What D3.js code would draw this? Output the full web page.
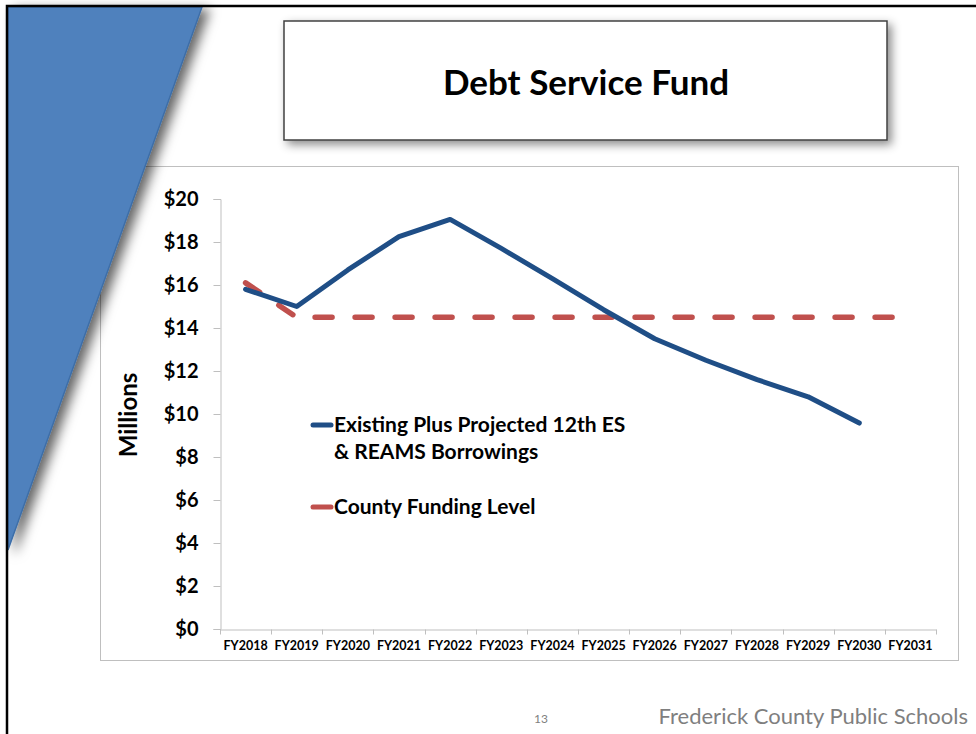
<!DOCTYPE html>
<html>
<head>
<meta charset="utf-8">
<script src="https://cdn.jsdelivr.net/npm/d3@7"></script>
<style>
    body { margin: 0; background: #fff; }
    svg text { font-family: Lato, "Open Sans", "DejaVu Sans", sans-serif; }
</style>
</head>
<body>
<div id="debt-chart"></div>
<script>
    "use strict"

    // -------------------------------------
    // Data (millions of dollars)
    // -------------------------------------
    var categories = ['FY2018', 'FY2019', 'FY2020', 'FY2021', 'FY2022', 'FY2023', 'FY2024',
        'FY2025', 'FY2026', 'FY2027', 'FY2028', 'FY2029', 'FY2030', 'FY2031']
    var existingDebt = [15.8, 15.0, 16.7, 18.25, 19.05, 17.7, 16.3, 14.85, 13.5, 12.5, 11.6, 10.8, 9.58, null]
    var countyFunding = [16.1, 14.5, 14.5, 14.5, 14.5, 14.5, 14.5, 14.5, 14.5, 14.5, 14.5, 14.5, 14.5, 14.5]
    var yTicks = [0, 2, 4, 6, 8, 10, 12, 14, 16, 18, 20]
    var legendLabels = [['Existing Plus Projected 12th ES', '& REAMS Borrowings'], ['County Funding Level']]

    var blue = '#1f4e86'
    var red = '#c0504d'

    var svg = d3.select('#debt-chart')
        .append('svg')
        .attr('width', 976)
        .attr('height', 734)

    var defs = svg.append('defs')
    defs.append('filter').attr('id', 'shadow')
        .attr('x', '-20%').attr('y', '-20%').attr('width', '150%').attr('height', '150%')
        .append('feDropShadow')
        .attr('dx', 4).attr('dy', 4).attr('stdDeviation', 5)
        .attr('flood-color', '#000').attr('flood-opacity', 0.45)
    defs.append('filter').attr('id', 'wedge-shadow')
        .attr('x', '-20%').attr('y', '-20%').attr('width', '160%').attr('height', '150%')
        .append('feDropShadow')
        .attr('dx', 7).attr('dy', 3).attr('stdDeviation', 6)
        .attr('flood-color', '#000').attr('flood-opacity', 0.6)

    // chart area frame (sits under the wedge)
    svg.append('rect')
        .attr('x', 100.5).attr('y', 166.5).attr('width', 858).attr('height', 494)
        .attr('fill', '#fff')
        .attr('stroke', '#bfbfbf')
        .attr('stroke-width', 1)

    // slide border + blue wedge
    svg.append('path')
        .attr('d', 'M8,7 L202,7 L8,550 Z')
        .attr('fill', '#4f81bd')
        .attr('stroke', '#3d6ea8')
        .attr('stroke-width', 1.5)
        .attr('filter', 'url(#wedge-shadow)')

    svg.append('path')
        .attr('d', 'M7,734 L7,6 L976,6')
        .attr('fill', 'none')
        .attr('stroke', '#000')
        .attr('stroke-width', 2.5)

    // title box
    svg.append('rect')
        .attr('x', 284).attr('y', 21).attr('width', 603).attr('height', 119)
        .attr('fill', '#fff')
        .attr('stroke', '#404040')
        .attr('stroke-width', 1.5)
        .attr('filter', 'url(#shadow)')

    svg.append('text')
        .attr('x', 586).attr('y', 95)
        .attr('text-anchor', 'middle')
        .attr('font-size', 35)
        .attr('font-weight', 'bold')
        .text('Debt Service Fund')

    // -------------------------------------
    // Scales and axes
    // -------------------------------------
    var x = d3.scaleBand().domain(categories).range([220, 936])
    var y = d3.scaleLinear().domain([0, 20]).range([629, 199])
    var cx = function (c) { return x(c) + x.bandwidth() / 2 }

    var yAxis = svg.append('g')
        .attr('transform', 'translate(220.5,0)')
        .call(d3.axisLeft(y).tickValues(yTicks).tickSize(7).tickPadding(15)
            .tickFormat(function (d) { return '$' + d }))
    yAxis.selectAll('text').attr('font-size', 20).attr('font-weight', 'bold').attr('fill', '#000')
        .attr('font-family', 'Lato, sans-serif')
    yAxis.selectAll('line, path').attr('stroke', '#bfbfbf')

    var xAxis = svg.append('g')
        .attr('transform', 'translate(0,629.5)')
        .call(d3.axisBottom(x).tickSize(0).tickPadding(12))
    xAxis.selectAll('text').attr('font-size', 12.5).attr('font-weight', 'bold').attr('fill', '#000')
        .attr('font-family', 'Lato, sans-serif')
    xAxis.select('.domain').attr('stroke', '#bfbfbf')

    // category boundary ticks
    xAxis.selectAll('.bound')
        .data(categories.concat(['end']))
        .enter()
        .append('line')
        .attr('class', 'bound')
        .attr('x1', function (d, i) { return Math.round(i < categories.length ? x(d) : x.range()[1]) + 0.5 })
        .attr('x2', function (d, i) { return Math.round(i < categories.length ? x(d) : x.range()[1]) + 0.5 })
        .attr('y1', 0).attr('y2', 5)
        .attr('stroke', '#bfbfbf')

    svg.append('text')
        .attr('transform', 'translate(137,415) rotate(-90)')
        .attr('text-anchor', 'middle')
        .attr('font-size', 24)
        .attr('font-weight', 'bold')
        .text('Millions')

    // -------------------------------------
    // Lines
    // -------------------------------------
    var line = d3.line()
        .defined(function (d) { return d != null })
        .x(function (d, i) { return cx(categories[i]) })
        .y(function (d) { return y(d) })

    svg.append('path')
        .datum(countyFunding)
        .attr('fill', 'none')
        .attr('stroke', red)
        .attr('stroke-width', 5.5)
        .attr('stroke-linecap', 'round')
        .attr('stroke-dasharray', '17,23')
        .attr('d', line)

    svg.append('path')
        .datum(existingDebt)
        .attr('fill', 'none')
        .attr('stroke', blue)
        .attr('stroke-width', 5)
        .attr('stroke-linecap', 'round')
        .attr('stroke-linejoin', 'round')
        .attr('d', line)

    // -------------------------------------
    // Legend
    // -------------------------------------
    var legendY = [425, 507]
    var legendColors = [blue, red]
    legendLabels.forEach(function (lines, i) {
        var g = svg.append('g').attr('transform', 'translate(0,' + legendY[i] + ')')
        g.append('line')
            .attr('x1', 313).attr('x2', 331).attr('y1', 0).attr('y2', 0)
            .attr('stroke', legendColors[i])
            .attr('stroke-width', 5)
            .attr('stroke-linecap', 'round')
        lines.forEach(function (t, j) {
            g.append('text')
                .attr('x', 334).attr('y', 7 + j * 27)
                .attr('font-size', 21)
                .attr('font-weight', 'bold')
                .text(t)
        })
    })

    // -------------------------------------
    // Footer
    // -------------------------------------
    svg.append('text')
        .attr('x', 541).attr('y', 723)
        .attr('text-anchor', 'middle')
        .attr('font-size', 12)
        .attr('fill', '#7f7f7f')
        .text('13')

    svg.append('text')
        .attr('x', 968).attr('y', 724)
        .attr('text-anchor', 'end')
        .attr('font-size', 22)
        .attr('fill', '#7f7f7f')
        .text('Frederick County Public Schools')
</script>
</body>
</html>
